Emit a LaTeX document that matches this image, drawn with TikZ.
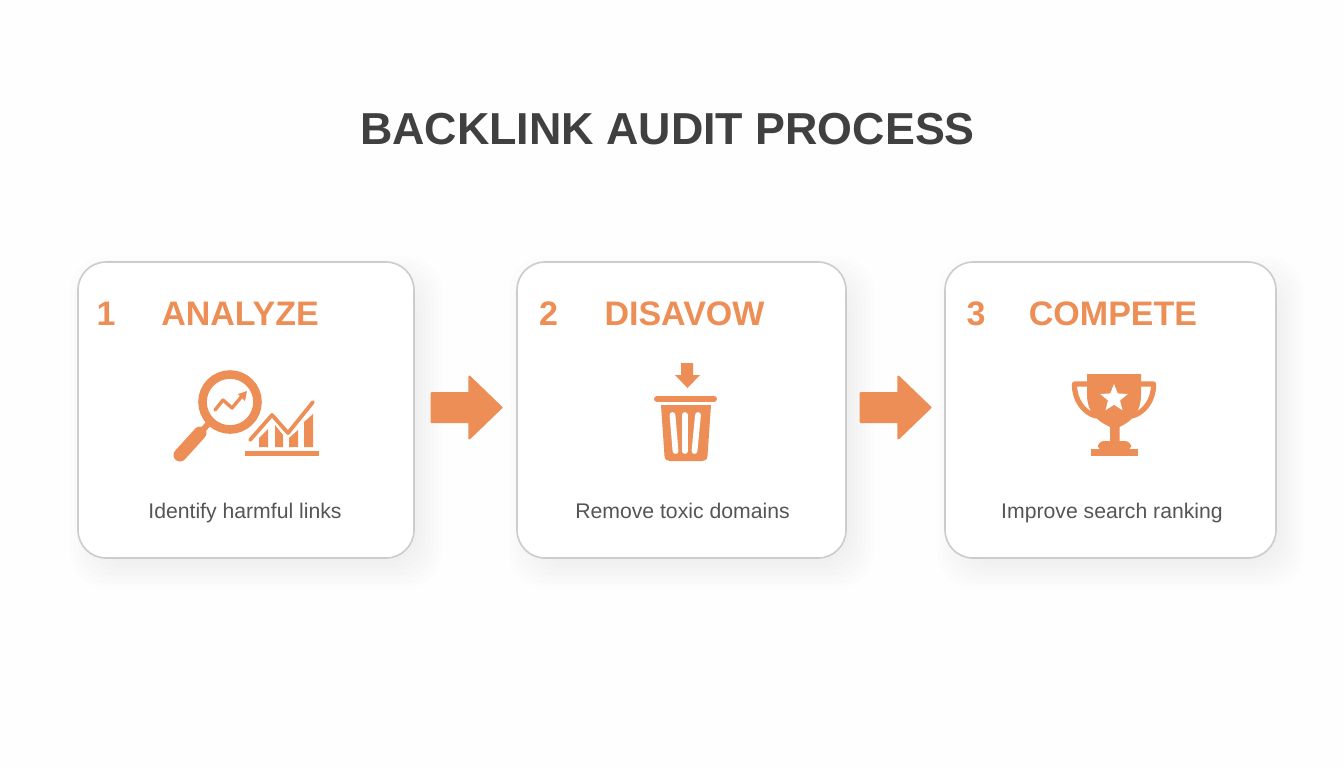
\documentclass[tikz,border=0pt]{standalone}
\usepackage{fontspec}
\setmainfont{Liberation Sans}
\usepackage{tikz}
\usetikzlibrary{shapes.geometric,shapes.arrows}

\definecolor{accent}{HTML}{EC8E56}
\definecolor{titlegrey}{HTML}{404040}
\definecolor{bodygrey}{HTML}{555555}
\definecolor{edgegrey}{HTML}{CCCCCC}
\definecolor{paper}{HTML}{FEFEFE}

\tikzset{
  card/.style={draw=edgegrey,line width=0.8pt,fill=white,rounded corners=14pt,inner sep=0pt,minimum height=148pt},
  heading/.style={anchor=base,text=accent,font=\bfseries\fontsize{17}{19}\selectfont,inner sep=0pt},
  descr/.style={anchor=base,text=bodygrey,font=\fontsize{10.6}{12}\selectfont,inner sep=0pt},
  flow-arrow/.style={shape=single arrow,fill=accent,draw=accent,line width=1pt,line join=round,inner xsep=0pt,inner ysep=6.75pt,
    minimum height=35pt,single arrow head extend=8.25pt,single arrow tip angle=88,single arrow head indent=0pt},
  icon/.style={fill=accent,draw=none},
  icon-line/.style={draw=accent,line cap=round,line join=round}
}

% Soft shadow under a card, built from stacked faint rectangles.
\newcommand{\cardshadow}[4]{%
  \foreach \spread in {-6,-2,...,18}{
    \fill[black,opacity=0.006,rounded corners=18pt]
      (#1+10-\spread,#2+12-\spread) rectangle (#3+10+\spread,#4+12+\spread);
  }%
}

\begin{document}
\begin{tikzpicture}[x=0.5pt,y=-0.5pt]

  \fill[paper] (0,0) rectangle (1344,768);
  \useasboundingbox (0,0) rectangle (1344,768);

  % Place the title.
  \node [anchor=base,text=titlegrey,font=\bfseries\fontsize{22.4}{26}\selectfont,inner sep=0pt] (title) at (667.5,144) {BACKLINK AUDIT PROCESS};

  % Place the cards.
  \cardshadow{78}{262}{414}{558}
  \cardshadow{517}{262}{846}{558}
  \cardshadow{945}{262}{1276}{558}
  \node [card,minimum width=168pt] (card-analyze) at (246,410) {};
  \node [card,minimum width=164.5pt] (card-disavow) at (681.5,410) {};
  \node [card,minimum width=165.5pt] (card-compete) at (1110.5,410) {};

  % Place the card texts.
  \node [heading] (num-analyze) at (106,325) {1};
  \node [heading] (head-analyze) at (240,325) {ANALYZE};
  \node [descr] (text-analyze) at (245,518) {Identify harmful links};

  \node [heading] (num-disavow) at (548.5,325) {2};
  \node [heading] (head-disavow) at (684.5,325) {DISAVOW};
  \node [descr] (text-disavow) at (682.5,518) {Remove toxic domains};

  \node [heading] (num-compete) at (976,325) {3};
  \node [heading] (head-compete) at (1113,325) {COMPETE};
  \node [descr] (text-compete) at (1112,518) {Improve search ranking};

  % Place the arrows between the cards.
  \node [flow-arrow] (arrow-one) at (459,407.5) {};
  \node [flow-arrow] (arrow-two) at (888,407.5) {};

  % Magnifier.
  \draw [icon-line,line width=4.3pt] (230,402) circle (27.5);
  \draw [icon-line,line width=3pt,line cap=butt] (209,423) -- (202,431);
  \draw [icon-line,line width=6.5pt] (200,433) -- (180,455);
  \draw [icon-line,line width=1.7pt] (215,410) -- (223,400) -- (232,408) -- (242,396);
  \fill [accent] (247,391) -- (238,394) -- (245,401) -- cycle;

  % Rising chart.
  \fill [icon] (245,451) rectangle (319,455.5);
  \fill [icon] (259,447) -- (259,438) -- (268,429) -- (268,447) -- cycle;
  \fill [icon] (275,447) -- (275,425) -- (283,435) -- (283,447) -- cycle;
  \fill [icon] (289,447) -- (289,438) -- (298,430) -- (298,447) -- cycle;
  \fill [icon] (304,447) -- (304,422) -- (313,414) -- (313,447) -- cycle;
  \draw [icon-line,line width=1.9pt] (250,440) -- (272,415) -- (288,433) -- (313,402);

  % Waste bin with its arrow.
  \fill [icon] (681,363) -- (693,363) -- (693,375) -- (700,375) -- (687.5,388) -- (675,375) -- (681,375) -- cycle;
  \draw [icon-line,line width=3pt] (657,399) -- (714,399);
  \fill [icon] (661,405) -- (711,405) -- (707.5,456) .. controls (707,460) and (705,461) .. (702,461)
    -- (670,461) .. controls (667,461) and (665,460) .. (664.5,456) -- cycle;
  \draw [white,line cap=round,line width=2.9pt] (672.5,415) -- (675.5,451);
  \draw [white,line cap=round,line width=2.9pt] (684.7,415) -- (684.7,451);
  \draw [white,line cap=round,line width=2.9pt] (698,415) -- (694.5,451);

  % Trophy.
  \fill [icon] (1087,374) -- (1141,374) -- (1141,395)
    .. controls (1141,412) and (1132,421) .. (1119.5,427) -- (1119.5,442) -- (1110,442) -- (1110,427)
    .. controls (1097,421) and (1087,412) .. (1087,395) -- cycle;
  \fill [icon,rounded corners=3pt] (1098,451) -- (1098,441) -- (1131,441) -- (1131,451) -- cycle;
  \fill [icon] (1091,449) rectangle (1137.5,455.5);
  \draw [icon-line,line width=2.6pt] (1088,384) -- (1074.5,384) .. controls (1074,400) and (1084,413) .. (1096,416);
  \draw [icon-line,line width=2.6pt] (1140,384) -- (1153.5,384) .. controls (1154,400) and (1144,413) .. (1132,416);
  \node [shape=star,star points=5,star point ratio=2.3,fill=white,inner sep=0pt,minimum size=14.5pt] (trophy-star) at (1114,398.5) {};

\end{tikzpicture}
\end{document}
